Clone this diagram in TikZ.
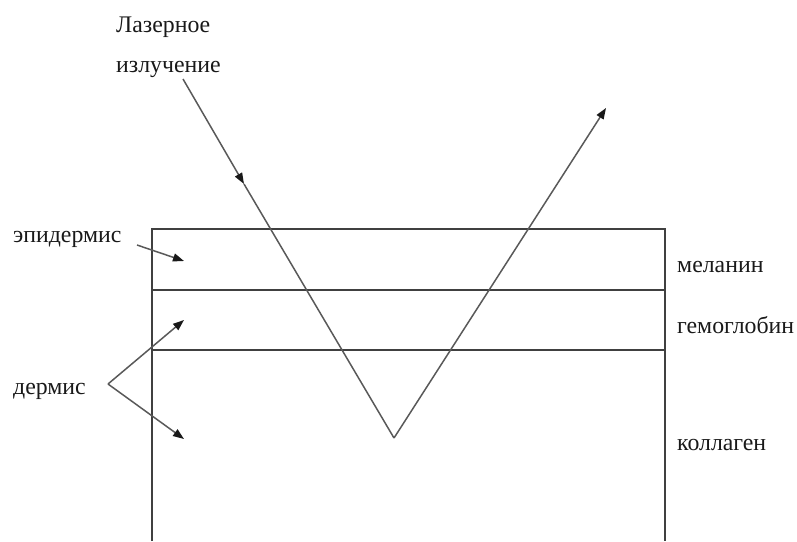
\documentclass[tikz,border=0pt]{standalone}
\usepackage{fontspec}
\setmainfont{Liberation Serif}
\usetikzlibrary{arrows.meta}
\begin{document}
\begin{tikzpicture}[x=1pt,y=-1pt,
  lbl/.style={anchor=base west,inner sep=0pt,font=\fontsize{23.8}{28}\selectfont,text=black!90},
  edge/.style={draw=black!75,line width=1.3pt},
  ray/.style={draw=black!65,line width=1.5pt},
  tip/.style={-{Triangle[length=11pt,width=8pt,color=black!90]}}]
\useasboundingbox (0,0) rectangle (797,541);
% layers
\coordinate (tl) at (152,229);
\coordinate (tr) at (665,229);
\coordinate (bl) at (152,541);
\coordinate (br) at (665,541);
\coordinate (l1) at (152,290);
\coordinate (r1) at (665,290);
\coordinate (l2) at (152,350);
\coordinate (r2) at (665,350);
\draw[edge] (bl) -- (tl) -- (tr) -- (br);
\draw[edge] (l1) -- (r1);
\draw[edge] (l2) -- (r2);
% labels
\node[lbl] (laz1) at (116,32) {Лазерное};
\node[lbl] (laz2) at (116,72) {излучение};
\node[lbl] (epi) at (13,242) {эпидермис};
\node[lbl] (derm) at (13,394) {дермис};
\node[lbl] (mel) at (677,272) {меланин};
\node[lbl] (gem) at (677,333) {гемоглобин};
\node[lbl] (kol) at (677,450) {коллаген};
% ray
\coordinate (rs) at (183,79);
\coordinate (rm) at (244,184);
\coordinate (rv) at (394,438);
\coordinate (re) at (606,108);
\draw[ray,tip] (rs) -- (rm);
\draw[ray] (rm) -- (rv);
\draw[ray,tip] (rv) -- (re);
% pointers
\coordinate (ea) at (137,245);
\coordinate (eb) at (184,261);
\coordinate (da) at (108,384);
\coordinate (db) at (184,320);
\coordinate (dc) at (184,439);
\draw[ray,tip] (ea) -- (eb);
\draw[ray,tip] (da) -- (db);
\draw[ray,tip] (da) -- (dc);
\end{tikzpicture}
\end{document}
